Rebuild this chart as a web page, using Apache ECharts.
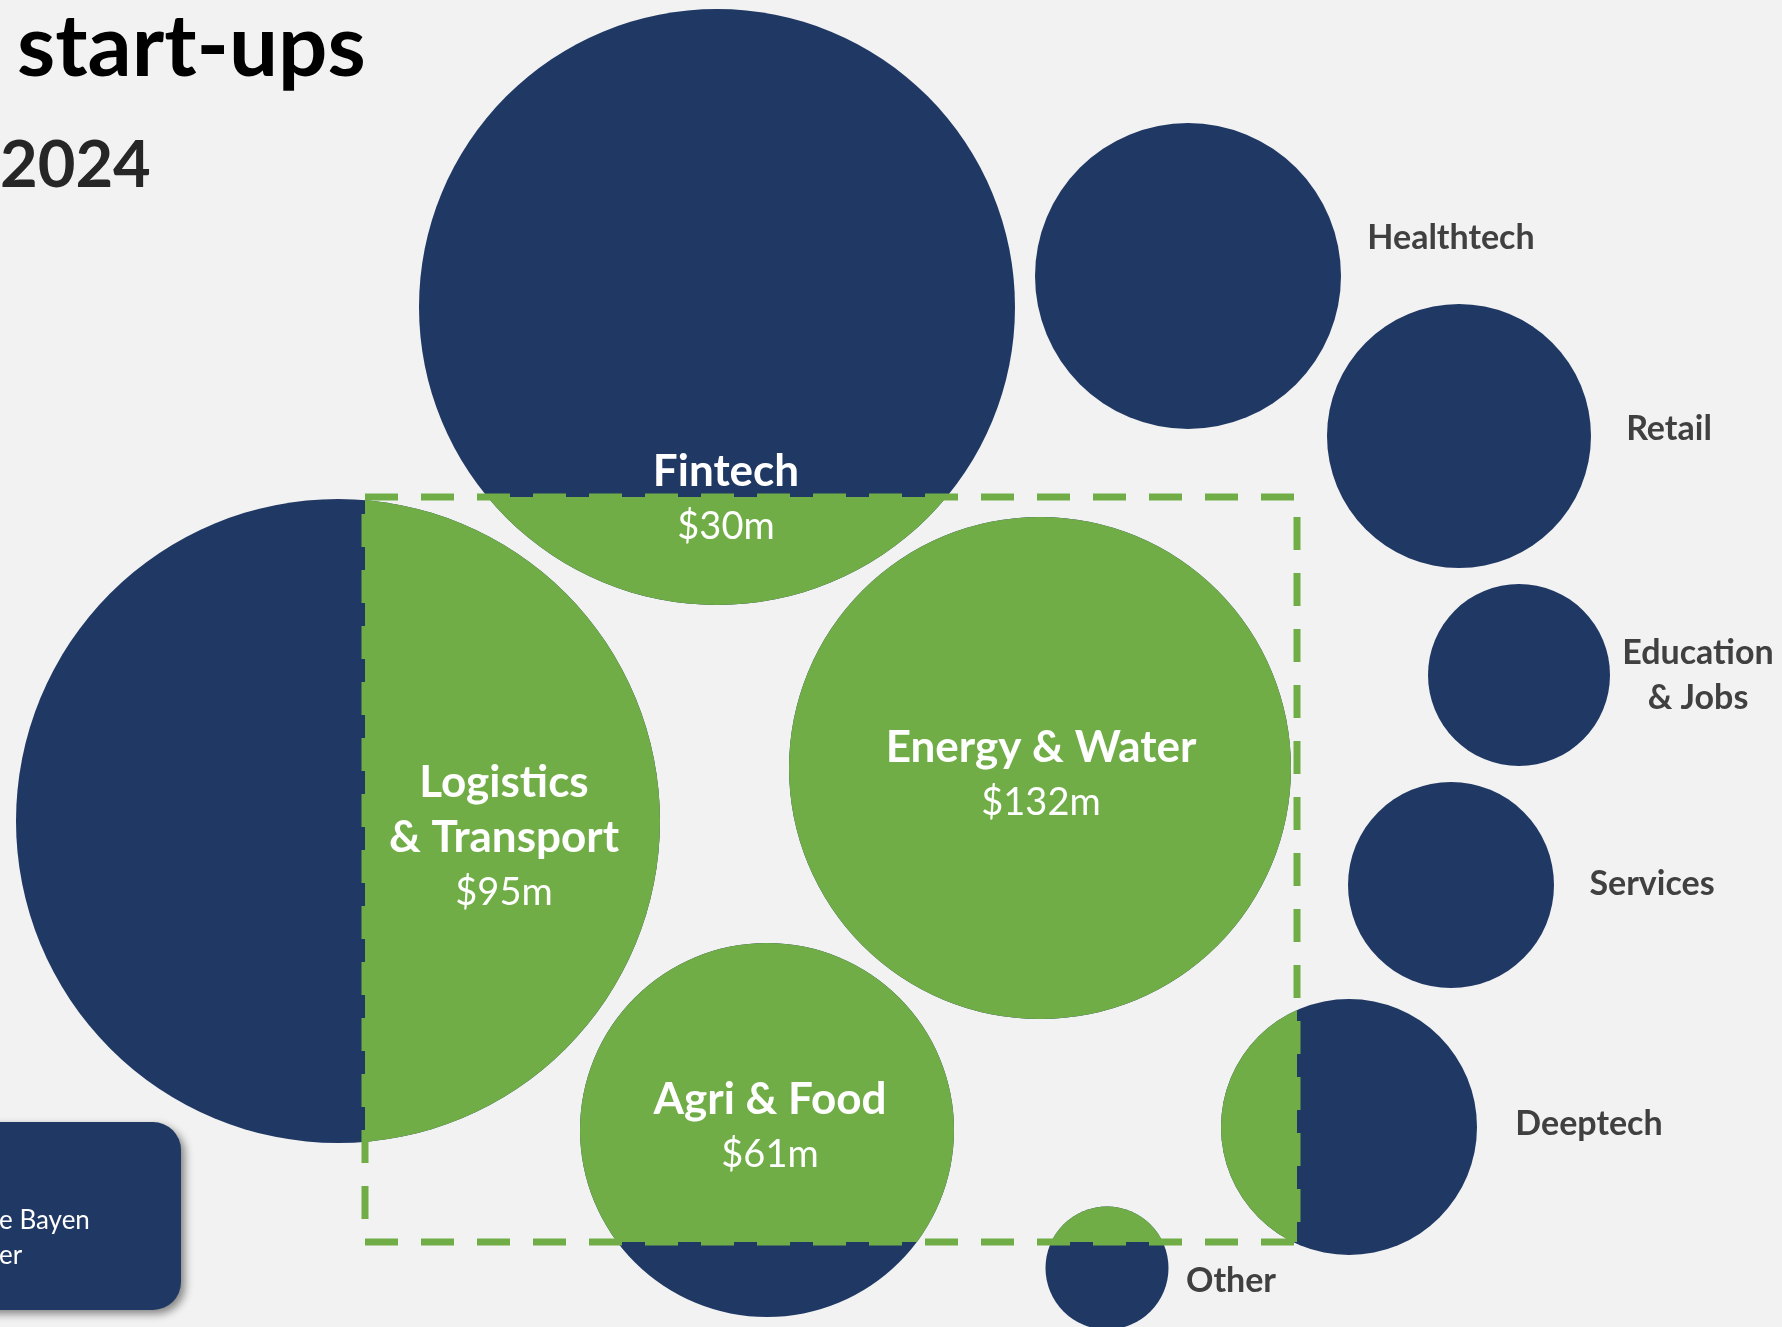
<!DOCTYPE html>
<html>
<head>
<meta charset="utf-8">
<script src="https://cdn.jsdelivr.net/npm/echarts@6/dist/echarts.min.js"></script>
<style>
  html, body { margin: 0; padding: 0; background: #f2f2f2; }
  #chart { width: 1782px; height: 1327px; }
</style>
</head>
<body>
<div id="chart"></div>
<script>
// Secteurs et bulles (positions / rayons, en unités d'axe)
const sectors = ['Fintech', 'Healthtech', 'Retail', 'Education\n& Jobs', 'Services', 'Deeptech', 'Other', 'Logistics\n& Transport', 'Energy & Water', 'Agri & Food'];
const bubbleX = [717, 1188, 1459, 1519, 1451, 1349, 1107, 338, 1040, 767];
const bubbleY = [307, 276, 436, 675, 885, 1127, 1268, 821, 768, 1130];
const bubbleR = [298, 153, 132, 91, 103, 128, 61.5, 322, 251, 187];
const amounts = ['$30m', null, null, null, null, null, null, '$95m', '$132m', '$61m'];

// Décalage des étiquettes par rapport au centre de la bulle (px)
const labelDX = [9, 263, 210, 179, 201, 240, 124, 166, 1, 3];
const labelDY = [192, -38, -7, 1, -1, -3, 13, 17, 7, -3];

// Cadre en pointillés = zone "verte"
const frame = { x0: 365, y0: 497, x1: 1297, y1: 1242 };

const NAVY = '#203864';
const GREEN = '#70ad47';
const FONT = 'Lato, "Open Sans", sans-serif';

const bubbles = sectors.map((s, i) => [bubbleX[i], bubbleY[i], bubbleR[i], i]);

function drawBubble(color) {
    return function (params, api) {
        const c = api.coord([api.value(0), api.value(1)]);
        const r = api.size([api.value(2), 0])[0];
        return {
            type: 'circle',
            shape: { cx: c[0], cy: c[1], r: r },
            style: { fill: color }
        };
    };
}

function drawLabel(params, api) {
    const i = api.value(3);
    const c = api.coord([api.value(0), api.value(1)]);
    const lines = sectors[i].split('\n');
    const inside = amounts[i] !== null;
    let text;
    if (inside) {
        text = lines.map(l => '{n|' + l + '}').join('\n') + '\n{v|' + amounts[i] + '}';
    } else {
        text = lines.map(l => '{o|' + l + '}').join('\n');
    }
    return {
        type: 'text',
        x: c[0] + labelDX[i],
        y: c[1] + labelDY[i],
        z2: 10,
        style: {
            text: text,
            align: 'center',
            verticalAlign: 'middle',
            rich: {
                n: { fontFamily: FONT, fontSize: 44, fontWeight: 'bold', fill: '#ffffff', lineHeight: 55, align: 'center' },
                v: { fontFamily: FONT, fontSize: 38, fontWeight: 'normal', fill: '#ffffff', lineHeight: 55, align: 'center' },
                o: { fontFamily: FONT, fontSize: 34, fontWeight: 'bold', fill: '#404040', lineHeight: 45, align: 'center' }
            }
        }
    };
}

const chart = echarts.init(document.getElementById('chart'));

const option = {
    backgroundColor: '#f2f2f2',
    animation: false,
    grid: [
        { left: 0, top: 0, width: 1782, height: 1327 },
        { left: frame.x0, top: frame.y0, width: frame.x1 - frame.x0, height: frame.y1 - frame.y0 }
    ],
    xAxis: [
        { type: 'value', gridIndex: 0, min: 0, max: 1782, show: false },
        { type: 'value', gridIndex: 1, min: frame.x0, max: frame.x1, show: false }
    ],
    yAxis: [
        { type: 'value', gridIndex: 0, min: 0, max: 1327, inverse: true, show: false },
        { type: 'value', gridIndex: 1, min: frame.y0, max: frame.y1, inverse: true, show: false }
    ],
    graphic: [
        {
            type: 'text', left: 17, top: 4, z: 50,
            style: { text: 'start-ups', fontFamily: FONT, fontSize: 87, fontWeight: 'bold', fill: '#000000' }
        },
        {
            type: 'text', left: 0, top: 134, z: 50,
            style: { text: '2024', fontFamily: FONT, fontSize: 65, fontWeight: 'bold', fill: '#262626' }
        },
        {
            type: 'rect', z: 50,
            shape: { x: -40, y: 1122, width: 221, height: 188, r: 28 },
            style: { fill: NAVY, shadowBlur: 8, shadowOffsetX: 4, shadowOffsetY: 4, shadowColor: 'rgba(0,0,0,0.45)' }
        },
        {
            type: 'text', z: 51, x: -1, y: 1221,
            style: { text: 'e Bayen', fontFamily: FONT, fontSize: 26, fill: '#ffffff', verticalAlign: 'middle' }
        },
        {
            type: 'text', z: 51, x: -1, y: 1256,
            style: { text: 'er', fontFamily: FONT, fontSize: 26, fill: '#ffffff', verticalAlign: 'middle' }
        },
        {
            type: 'rect', z: 40,
            shape: { x: frame.x0, y: frame.y0, width: frame.x1 - frame.x0, height: frame.y1 - frame.y0 },
            style: { fill: null, stroke: GREEN, lineWidth: 7, lineDash: [33, 23] }
        }
    ],
    series: [
        {
            name: 'Total',
            type: 'custom',
            xAxisIndex: 0, yAxisIndex: 0,
            renderItem: drawBubble(NAVY),
            data: bubbles,
            z: 2
        },
        {
            name: 'Zone verte',
            type: 'custom',
            xAxisIndex: 1, yAxisIndex: 1,
            clip: true,
            renderItem: drawBubble(GREEN),
            data: bubbles,
            z: 3
        },
        {
            name: 'Libellés',
            type: 'custom',
            xAxisIndex: 0, yAxisIndex: 0,
            renderItem: drawLabel,
            data: bubbles,
            z: 60
        }
    ]
};

chart.setOption(option);

window.addEventListener('resize', function () {
    chart.resize();
});
</script>
</body>
</html>
